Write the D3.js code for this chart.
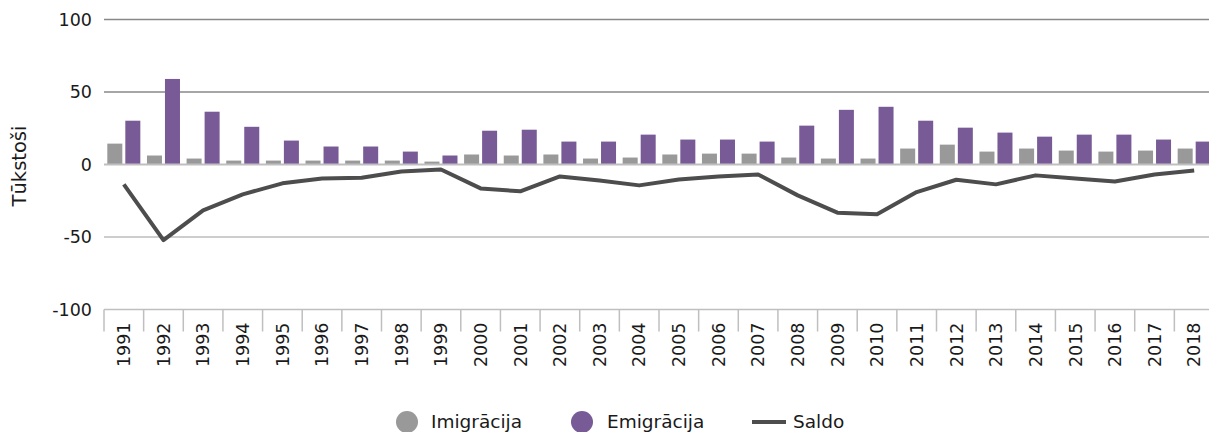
<!DOCTYPE html>
<html>
<head>
<meta charset="utf-8">
<script src="https://cdn.jsdelivr.net/npm/d3@7"></script>
<style>
	body { margin: 0; background: #fff; }
	svg { display: block; font-family: "DejaVu Sans", Verdana, sans-serif; }
</style>
</head>
<body>
<svg id="chart" width="1209" height="432"></svg>
<script>
	// data (thousands)
	var years = ["1991","1992","1993","1994","1995","1996","1997","1998","1999","2000",
		"2001","2002","2003","2004","2005","2006","2007","2008","2009","2010",
		"2011","2012","2013","2014","2015","2016","2017","2018"];
	var imigracija = [14.4, 6.2, 4.1, 2.7, 2.7, 2.7, 2.7, 2.7, 2.0, 6.9,
		6.2, 6.9, 4.1, 4.8, 6.9, 7.5, 7.5, 4.8, 4.1, 4.1,
		11.0, 13.7, 8.9, 11.0, 9.6, 8.9, 9.6, 11.0];
	var emigracija = [30.2, 59.0, 36.4, 26.0, 16.5, 12.4, 12.4, 8.9, 6.2, 23.3,
		24.0, 15.8, 15.8, 20.6, 17.2, 17.2, 15.8, 26.8, 37.7, 39.8,
		30.2, 25.4, 22.0, 19.2, 20.6, 20.6, 17.2, 15.8];
	var saldo = [-13.7, -52.2, -31.6, -20.6, -13.0, -9.6, -9.1, -4.8, -3.4, -16.5,
		-18.5, -8.2, -11.0, -14.4, -10.3, -8.2, -6.9, -21.3, -33.2, -34.3,
		-19.0, -10.5, -13.7, -7.5, -9.6, -11.7, -6.9, -4.1];
	var yTicks = [100, 50, 0, -50, -100];
	var seriesNames = ["Imigrācija", "Emigrācija"];

	var colors = {"Imigrācija": "#999999", "Emigrācija": "#775a96"};
	var lineColor = "#4d4d4d";

	var svg = d3.select("#chart");
	var plotLeft = 104, plotRight = 1214, plotTop = 19.5, plotBottom = 309.5;
	var fontSize = "17.5px";

	var x0 = d3.scaleBand().domain(years).range([plotLeft, plotRight]).paddingInner(0).paddingOuter(0);
	var x1 = d3.scaleBand().domain(seriesNames).range([0, x0.bandwidth()])
		.paddingInner(0.1667).paddingOuter(0.184);
	var y = d3.scaleLinear().domain([-100, 100]).range([plotBottom, plotTop]);

	// gridlines
	svg.append("g").selectAll("line")
		.data(yTicks.filter(function(d){ return d !== 0 && d !== -100; }))
		.enter().append("line")
		.attr("x1", plotLeft).attr("x2", 1209)
		.attr("y1", function(d){ return y(d); }).attr("y2", function(d){ return y(d); })
		.attr("stroke", function(d){ return d > 0 ? "#888888" : "#bdbdbd"; })
		.attr("stroke-width", 1.5);

	// y tick labels
	svg.append("g").selectAll("text")
		.data(yTicks).enter().append("text")
		.attr("x", 92).attr("y", function(d){ return y(d); })
		.attr("dy", "0.36em")
		.attr("text-anchor", "end")
		.attr("font-size", fontSize).attr("fill", "#1a1a1a")
		.text(function(d){ return d; });

	// y axis title
	svg.append("text")
		.attr("transform", "translate(26," + 166 + ") rotate(-90)")
		.attr("text-anchor", "middle")
		.attr("font-size", "19.5px").attr("fill", "#1a1a1a")
		.text("Tūkstoši");

	// bars
	var rows = years.map(function(yr, i){
		return {year: yr, values: [
			{key: "Imigrācija", value: imigracija[i]},
			{key: "Emigrācija", value: emigracija[i]}
		]};
	});
	var groups = svg.append("g").selectAll("g")
		.data(rows).enter().append("g")
		.attr("transform", function(d){ return "translate(" + x0(d.year) + ",0)"; });
	groups.selectAll("rect")
		.data(function(d){ return d.values; })
		.enter().append("rect")
		.attr("x", function(d){ return x1(d.key); })
		.attr("width", x1.bandwidth())
		.attr("y", function(d){ return y(Math.max(0, d.value)); })
		.attr("height", function(d){ return Math.abs(y(d.value) - y(0)); })
		.attr("fill", function(d){ return colors[d.key]; });

	// zero line
	svg.append("line")
		.attr("x1", plotLeft).attr("x2", 1209)
		.attr("y1", y(0)).attr("y2", y(0))
		.attr("stroke", "#bfbfbf").attr("stroke-width", 2);

	// x axis at -100 with category separators
	var xAxis = svg.append("g");
	xAxis.append("line")
		.attr("x1", plotLeft).attr("x2", 1209)
		.attr("y1", y(-100)).attr("y2", y(-100))
		.attr("stroke", "#bfbfbf").attr("stroke-width", 1.5);
	xAxis.selectAll(".sep")
		.data(years).enter().append("line")
		.attr("class", "sep")
		.attr("x1", function(d){ return x0(d); }).attr("x2", function(d){ return x0(d); })
		.attr("y1", y(-100)).attr("y2", y(-100) + 22)
		.attr("stroke", "#bfbfbf").attr("stroke-width", 1.5);
	xAxis.selectAll("text")
		.data(years).enter().append("text")
		.attr("transform", function(d){
			return "translate(" + (x0(d) + x0.bandwidth() / 2) + "," + (y(-100) + 13) + ") rotate(-90)";
		})
		.attr("text-anchor", "end")
		.attr("dy", "0.36em")
		.attr("font-size", fontSize).attr("fill", "#1a1a1a")
		.text(function(d){ return d; });

	// saldo line
	var line = d3.line()
		.x(function(d, i){ return x0(years[i]) + x0.bandwidth() / 2; })
		.y(function(d){ return y(d); });
	svg.append("path")
		.datum(saldo)
		.attr("d", line)
		.attr("fill", "none")
		.attr("stroke", lineColor)
		.attr("stroke-width", 4)
		.attr("stroke-linejoin", "round");

	// legend
	var legend = svg.append("g");
	var legY = 422, legFont = "18.5px";
	legend.append("circle").attr("cx", 407).attr("cy", legY).attr("r", 11).attr("fill", colors["Imigrācija"]);
	legend.append("text").attr("x", 431).attr("y", legY + 6).attr("font-size", legFont).attr("fill", "#1a1a1a").text("Imigrācija");
	legend.append("circle").attr("cx", 582).attr("cy", legY).attr("r", 11).attr("fill", colors["Emigrācija"]);
	legend.append("text").attr("x", 607).attr("y", legY + 6).attr("font-size", legFont).attr("fill", "#1a1a1a").text("Emigrācija");
	legend.append("line").attr("x1", 752).attr("x2", 786).attr("y1", legY).attr("y2", legY)
		.attr("stroke", lineColor).attr("stroke-width", 4);
	legend.append("text").attr("x", 793).attr("y", legY + 6).attr("font-size", legFont).attr("fill", "#1a1a1a").text("Saldo");
</script>
</body>
</html>
